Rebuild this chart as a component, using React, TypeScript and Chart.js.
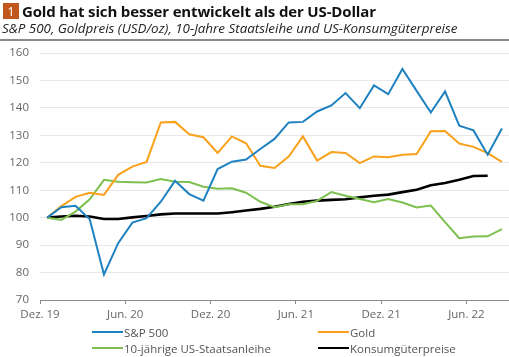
import React, { useEffect, useRef } from "react";
import { Chart, registerables } from "chart.js";

Chart.register(...registerables);

const xTickLabels = ["Dez. 19", "Jun. 20", "Dez. 20", "Jun. 21", "Dez. 21", "Jun. 22"];
const monthsPerTick = 6;

const sp500 = [100, 103.8, 104.3, 99.4, 79.3, 90.7, 98.2, 99.8, 105.8, 113.4, 108.6, 106.2, 117.7, 120.4, 121.2, 125.0, 128.7, 134.7, 134.9, 138.7, 140.9, 145.4, 139.9, 148.2, 145.0, 154.2, 146.2, 138.3, 146.0, 133.5, 131.8, 122.9, 132.5];
const gold = [100, 104.2, 107.6, 109.1, 108.3, 115.6, 118.6, 120.3, 134.7, 134.9, 130.4, 129.3, 123.6, 129.6, 127.1, 118.9, 118.1, 122.3, 129.6, 120.8, 123.9, 123.6, 119.9, 122.3, 122.0, 122.9, 123.2, 131.5, 131.6, 127.0, 125.8, 123.5, 120.3];
const bond10 = [100, 99.2, 102.2, 106.7, 113.8, 113.1, 112.9, 112.8, 114.1, 113.1, 113.0, 111.3, 110.5, 110.7, 109.1, 105.8, 103.8, 104.9, 104.9, 106.1, 109.3, 108.0, 106.8, 105.6, 106.8, 105.5, 103.7, 104.4, 98.4, 92.5, 93.1, 93.2, 95.8];
const cpi = [100, 100.4, 100.7, 100.4, 99.5, 99.5, 100.1, 100.6, 101.2, 101.5, 101.5, 101.5, 101.5, 102.0, 102.6, 103.2, 104.0, 105.0, 105.8, 106.2, 106.5, 106.7, 107.4, 108.0, 108.4, 109.3, 110.2, 111.8, 112.6, 113.8, 115.2, 115.3];

const seriesNames = ["S&P 500", "Gold", "10-jährige US-Staatsanleihe", "Konsumgüterpreise"];
const seriesColors = ["#1f82c0", "#f9a11b", "#7dc050", "#000000"];
const seriesWidths = [2, 2, 2, 2.6];
const seriesData = [sp500, gold, bond10, cpi];

const yMin = 70;
const yMax = 160;
const yStep = 10;
const xMax = 33;

const FONT = "'Open Sans', sans-serif";

const toPoints = (arr: number[]) => arr.map((v, i) => ({ x: i + 0.5, y: v }));

export default function App() {
  const canvasRef = useRef<HTMLCanvasElement | null>(null);

  useEffect(() => {
    document.body.style.margin = "0";
    const canvas = canvasRef.current;
    if (!canvas) return;
    const chart = new Chart(canvas, {
      type: "line",
      data: {
        datasets: seriesData.map((d, i) => ({
          label: seriesNames[i],
          data: toPoints(d),
          borderColor: seriesColors[i],
          backgroundColor: seriesColors[i],
          borderWidth: seriesWidths[i],
          pointRadius: 0,
          tension: 0,
          fill: false,
        })),
      },
      options: {
        animation: false,
        responsive: false,
        devicePixelRatio: 1,
        layout: { padding: { top: 53, left: 0, right: 0, bottom: 0 } },
        plugins: { legend: { display: false }, tooltip: { enabled: false }, title: { display: false } },
        scales: {
          x: {
            type: "linear",
            min: 0,
            max: xMax,
            afterFit: (scale: any) => {
              scale.height = 57;
            },
            afterBuildTicks: (scale: any) => {
              scale.ticks = xTickLabels.map((_, i) => ({ value: i * monthsPerTick }));
            },
            ticks: {
              autoSkip: false,
              maxRotation: 0,
              padding: 4,
              color: "#666",
              font: { family: FONT, size: 11.5 },
              callback: (v: any) => xTickLabels[Math.round(Number(v) / monthsPerTick)] ?? "",
            },
            grid: { drawOnChartArea: false, drawTicks: true, tickLength: 4, color: "#8a8a8a" },
            border: { display: true, color: "#8a8a8a", width: 1 },
          },
          y: {
            min: yMin,
            max: yMax,
            afterFit: (scale: any) => {
              scale.width = 40;
            },
            ticks: {
              stepSize: yStep,
              padding: 11,
              color: "#666",
              font: { family: FONT, size: 11.5 },
            },
            grid: { drawTicks: false, color: "#e8e8e8", lineWidth: 1 },
            border: { display: false },
          },
        },
      },
    });
    return () => chart.destroy();
  }, []);

  const legendRows = [
    [0, 1],
    [2, 3],
  ];
  const legendCols = [92, 318];
  const legendRowY = [332, 348];

  return (
    <div style={{ position: "relative", width: 509, height: 357, background: "#fff", fontFamily: FONT, overflow: "hidden" }}>
      <canvas ref={canvasRef} width={509} height={357} style={{ position: "absolute", left: 0, top: 0 }} />
      <div style={{ position: "absolute", left: 3, top: 3, width: 16, height: 16, background: "#c0581b", color: "#fff", fontSize: 13, lineHeight: "16px", textAlign: "center" }}>1</div>
      <div style={{ position: "absolute", left: 22, top: 0, fontSize: 15, fontWeight: 700, color: "#111", lineHeight: "22px", whiteSpace: "nowrap", letterSpacing: -0.15 }}>
        Gold hat sich besser entwickelt als der US-Dollar
      </div>
      <div style={{ position: "absolute", left: 2, top: 19, fontSize: 13.4, fontStyle: "italic", color: "#222", lineHeight: "18px", whiteSpace: "nowrap" }}>
        S&amp;P 500, Goldpreis (USD/oz), 10-Jahre Staatsleihe und US-Konsumgüterpreise
      </div>
      <div style={{ position: "absolute", left: 0, top: 39, width: 509, height: 2, background: "#8a8a8a" }} />
      {legendRows.map((row, r) =>
        row.map((si, c) => (
          <div key={si} style={{ position: "absolute", left: legendCols[c], top: legendRowY[r] - 8, height: 16, display: "flex", alignItems: "center", whiteSpace: "nowrap" }}>
            <div style={{ width: 31, height: seriesWidths[si], background: seriesColors[si] }} />
            <span style={{ fontSize: 11.5, color: "#555", marginLeft: 1 }}>{seriesNames[si]}</span>
          </div>
        ))
      )}
    </div>
  );
}
